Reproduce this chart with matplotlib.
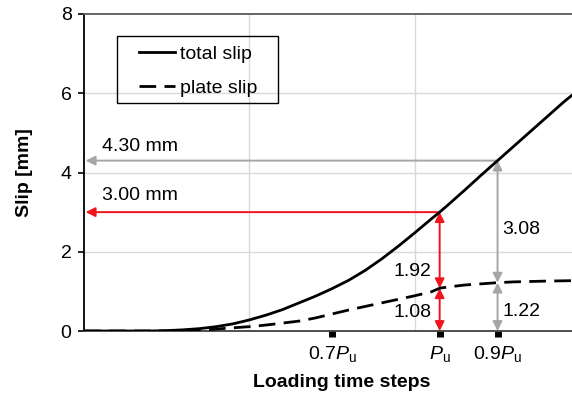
import matplotlib
matplotlib.use("Agg")
import matplotlib.pyplot as plt
from matplotlib.patches import Rectangle

# -----------------------------
# Datos
# -----------------------------
pasos_total = [0, 4, 5, 6, 7, 8, 9, 10, 11, 12, 13, 14, 15, 16, 17, 18, 19, 20,
               21, 21.5, 22, 23, 24, 25, 26, 27, 28, 29, 29.5]
slip_total = [0, 0, 0.01, 0.03, 0.06, 0.11, 0.18, 0.28, 0.40, 0.54, 0.71, 0.88,
              1.07, 1.28, 1.53, 1.82, 2.14, 2.48, 2.83, 3.00, 3.18, 3.55, 3.93,
              4.30, 4.67, 5.04, 5.41, 5.78, 5.95]

pasos_plate = [0, 6, 7, 8, 9, 10, 11, 12, 13, 14, 15, 16, 17, 18, 19, 20, 21,
               21.5, 22, 23, 24, 25, 26, 27, 28, 29.5]
slip_plate = [0, 0, 0.02, 0.05, 0.08, 0.11, 0.15, 0.20, 0.25, 0.33, 0.43, 0.53,
              0.62, 0.71, 0.80, 0.89, 0.99, 1.08, 1.11, 1.16, 1.19, 1.22, 1.24,
              1.25, 1.26, 1.27]

ticks_x = [15, 21.5, 25]
etiquetas_x = [r"0.7$P_{\mathrm{u}}$", r"$P_{\mathrm{u}}$", r"0.9$P_{\mathrm{u}}$"]

x_pu, total_pu, plate_pu = 21.5, 3.00, 1.08
x_09, total_09, plate_09 = 25, 4.30, 1.22

ROJO = "#f0141e"
GRIS = "#a6a6a6"

plt.rcParams["font.family"] = ["Liberation Sans", "DejaVu Sans"]
plt.rcParams["mathtext.fontset"] = "custom"
plt.rcParams["mathtext.rm"] = "Liberation Sans"
plt.rcParams["mathtext.it"] = "Liberation Sans:italic"

W, H = 572, 396
fig = plt.figure(figsize=(5.72, 3.96), dpi=100)
ax = fig.add_axes([84 / W, 65 / H, 1 - 84 / W, 317 / H])

ax.plot(pasos_total, slip_total, color="black", lw=2, label="total slip", zorder=4)
ax.plot(pasos_plate, slip_plate, color="black", lw=2, ls=(0, (6, 3)),
        label="plate slip", zorder=4)

ax.set_xlim(0, 29.5)
ax.set_ylim(0, 8)

# rejilla
for yv in [2, 4, 6]:
    ax.axhline(yv, color="#d9d9d9", lw=1, zorder=0)
for xv in [10, 20]:
    ax.axvline(xv, color="#d9d9d9", lw=1, zorder=0)

# flechas
def flecha(x0, y0, x1, y1, color, estilo="-|>"):
    ax.annotate("", xy=(x1, y1), xytext=(x0, y0),
                arrowprops=dict(arrowstyle=estilo, color=color, lw=1.4,
                                mutation_scale=14, shrinkA=0, shrinkB=0),
                zorder=3)

flecha(x_09, total_09, 0.1, total_09, GRIS)
flecha(x_pu, total_pu, 0.1, total_pu, ROJO)
flecha(x_pu, 0, x_pu, plate_pu, ROJO, "<|-|>")
flecha(x_pu, plate_pu, x_pu, total_pu, ROJO, "<|-|>")
flecha(x_09, 0, x_09, plate_09, GRIS, "<|-|>")
flecha(x_09, plate_09, x_09, total_09, GRIS, "<|-|>")

fs = 14
ax.text(1.1, 4.65, "4.30 mm", fontsize=fs, va="center", ha="left")
ax.text(1.1, 3.43, "3.00 mm", fontsize=fs, va="center", ha="left")
ax.text(21.0, 1.5, f"{total_pu - plate_pu:.2f}", fontsize=fs, va="center", ha="right")
ax.text(21.0, 0.46, f"{plate_pu:.2f}", fontsize=fs, va="center", ha="right")
ax.text(25.3, 2.55, f"{total_09 - plate_09:.2f}", fontsize=fs, va="center", ha="left")
ax.text(25.3, 0.49, f"{plate_09:.2f}", fontsize=fs, va="center", ha="left")

ax.set_xticks(ticks_x)
ax.set_xticklabels(etiquetas_x, fontsize=fs)
ax.set_yticks([0, 2, 4, 6, 8])
ax.tick_params(axis="x", length=4.5, width=5, direction="out", pad=5)
ax.tick_params(axis="y", length=4, width=1.2, labelsize=fs, pad=5)

ax.spines["right"].set_visible(False)
ax.spines["top"].set_color("#595959")
ax.spines["left"].set_color("black")
ax.spines["bottom"].set_color("#404040")
for s in ["top", "left", "bottom"]:
    ax.spines[s].set_linewidth(1.3)

ax.set_xlabel("Loading time steps", fontsize=fs, fontweight="bold")
ax.set_ylabel("Slip [mm]", fontsize=fs, fontweight="bold")
ax.xaxis.set_label_coords((342 - 84) / 488, (331 - 374) / 317)
ax.yaxis.set_label_coords((33 - 84) / 488, 0.5)

# leyenda sin marco y recuadro dibujado aparte
leg = ax.legend(loc="upper left", bbox_to_anchor=((139 - 84) / 488, (331 - 45) / 317),
                fontsize=fs, frameon=False, handlelength=1.85,
                handletextpad=0.25, borderpad=0, labelspacing=0.85,
                borderaxespad=0)
ax.add_patch(Rectangle(((117 - 84) / 488, (331 - 103) / 317), 161 / 488, 67 / 317,
                       transform=ax.transAxes, fill=False, edgecolor="black",
                       lw=1.0, zorder=5))

fig.savefig("out.png", dpi=100)
